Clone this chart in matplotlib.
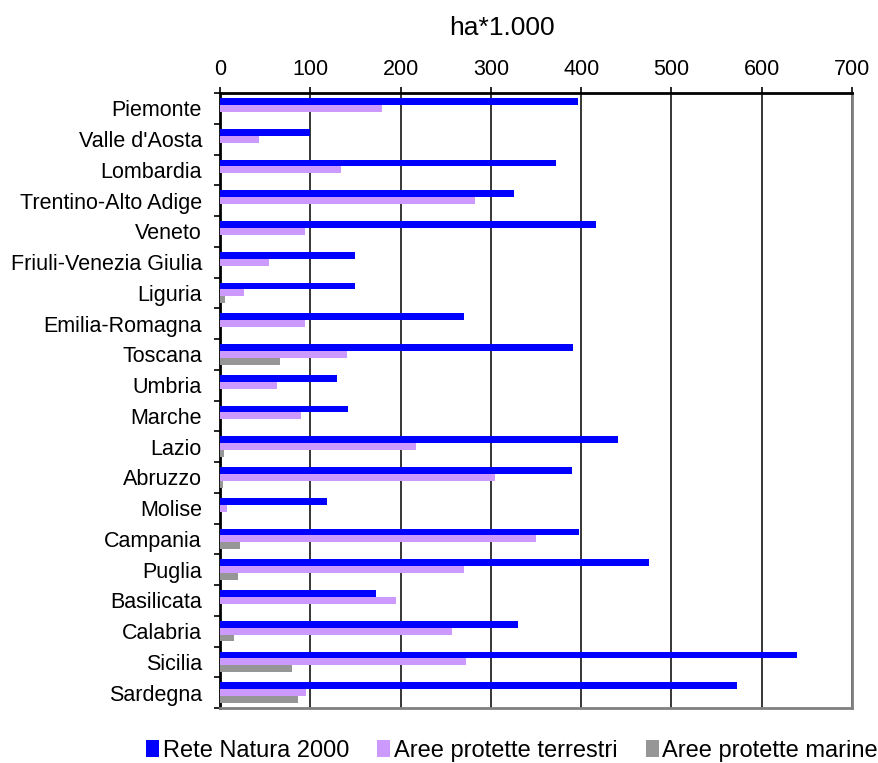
import numpy as np
import matplotlib
matplotlib.use("Agg")
import matplotlib.pyplot as plt
from matplotlib.ticker import MultipleLocator, FixedLocator

plt.rcParams["font.family"] = ["Liberation Sans", "DejaVu Sans"]

regions = [
    "Piemonte", "Valle d'Aosta", "Lombardia", "Trentino-Alto Adige", "Veneto",
    "Friuli-Venezia Giulia", "Liguria", "Emilia-Romagna", "Toscana", "Umbria",
    "Marche", "Lazio", "Abruzzo", "Molise", "Campania", "Puglia", "Basilicata",
    "Calabria", "Sicilia", "Sardegna",
]
# ha * 1000
rete_natura = [397, 100, 372, 326, 417, 149, 149, 270, 391, 130,
               142, 441, 390, 118, 398, 475, 173, 330, 639, 573]
aree_terrestri = [179, 43, 134, 282, 94, 54, 27, 94, 141, 63,
                  90, 217, 305, 8, 350, 270, 195, 257, 272, 95]
aree_marine = [0, 0, 0, 0, 0, 0, 5, 0, 66, 0,
               0, 4, 3, 0, 22, 20, 0, 15, 80, 86]

series = [
    ("Rete Natura 2000", rete_natura, "#0000ff"),
    ("Aree protette terrestri", aree_terrestri, "#cc99ff"),
    ("Aree protette marine", aree_marine, "#969696"),
]

fig = plt.figure(figsize=(8.79, 7.63), dpi=100)
ax = fig.add_axes([220 / 879, 1 - 708 / 763, 632 / 879, 615 / 763])

y = np.arange(len(regions))
h = 0.222
for i, (label, vals, color) in enumerate(series):
    ax.barh(y - h + i * h, vals, height=h, color=color, linewidth=0,
            label=label, zorder=3)

ax.set_xlim(0, 700)
ax.set_ylim(len(regions) - 0.5, -0.5)
ax.xaxis.set_major_locator(MultipleLocator(100))
ax.xaxis.tick_top()
ax.tick_params(axis="x", which="major", direction="out", length=4.5, width=1.2,
               color="black", labelsize=15.5, pad=5)
ax.grid(axis="x", color="black", linewidth=1.1, zorder=1)

ax.set_yticks(y)
ax.set_yticklabels(regions)
ax.yaxis.set_minor_locator(FixedLocator(np.arange(-0.5, len(regions), 1.0)))
ax.tick_params(axis="y", which="major", length=0, labelsize=15.5, pad=13)
ax.tick_params(axis="y", which="minor", direction="out", length=4.5, width=1.2,
               color="black")

for side in ("top", "left"):
    ax.spines[side].set_color("black")
    ax.spines[side].set_linewidth(2)
for side in ("right", "bottom"):
    ax.spines[side].set_color("#808080")
    ax.spines[side].set_linewidth(2)

fig.text(502 / 879, 1 - 28 / 763, "ha*1.000", ha="center", va="center",
         fontsize=19)

fig.legend(loc="center", bbox_to_anchor=(512 / 879, 1 - 751 / 763), ncol=3,
           frameon=False, fontsize=17, handlelength=0.55, handleheight=0.7,
           handletextpad=0.15, columnspacing=1.2, borderaxespad=0)

fig.savefig("out.png", dpi=100)
